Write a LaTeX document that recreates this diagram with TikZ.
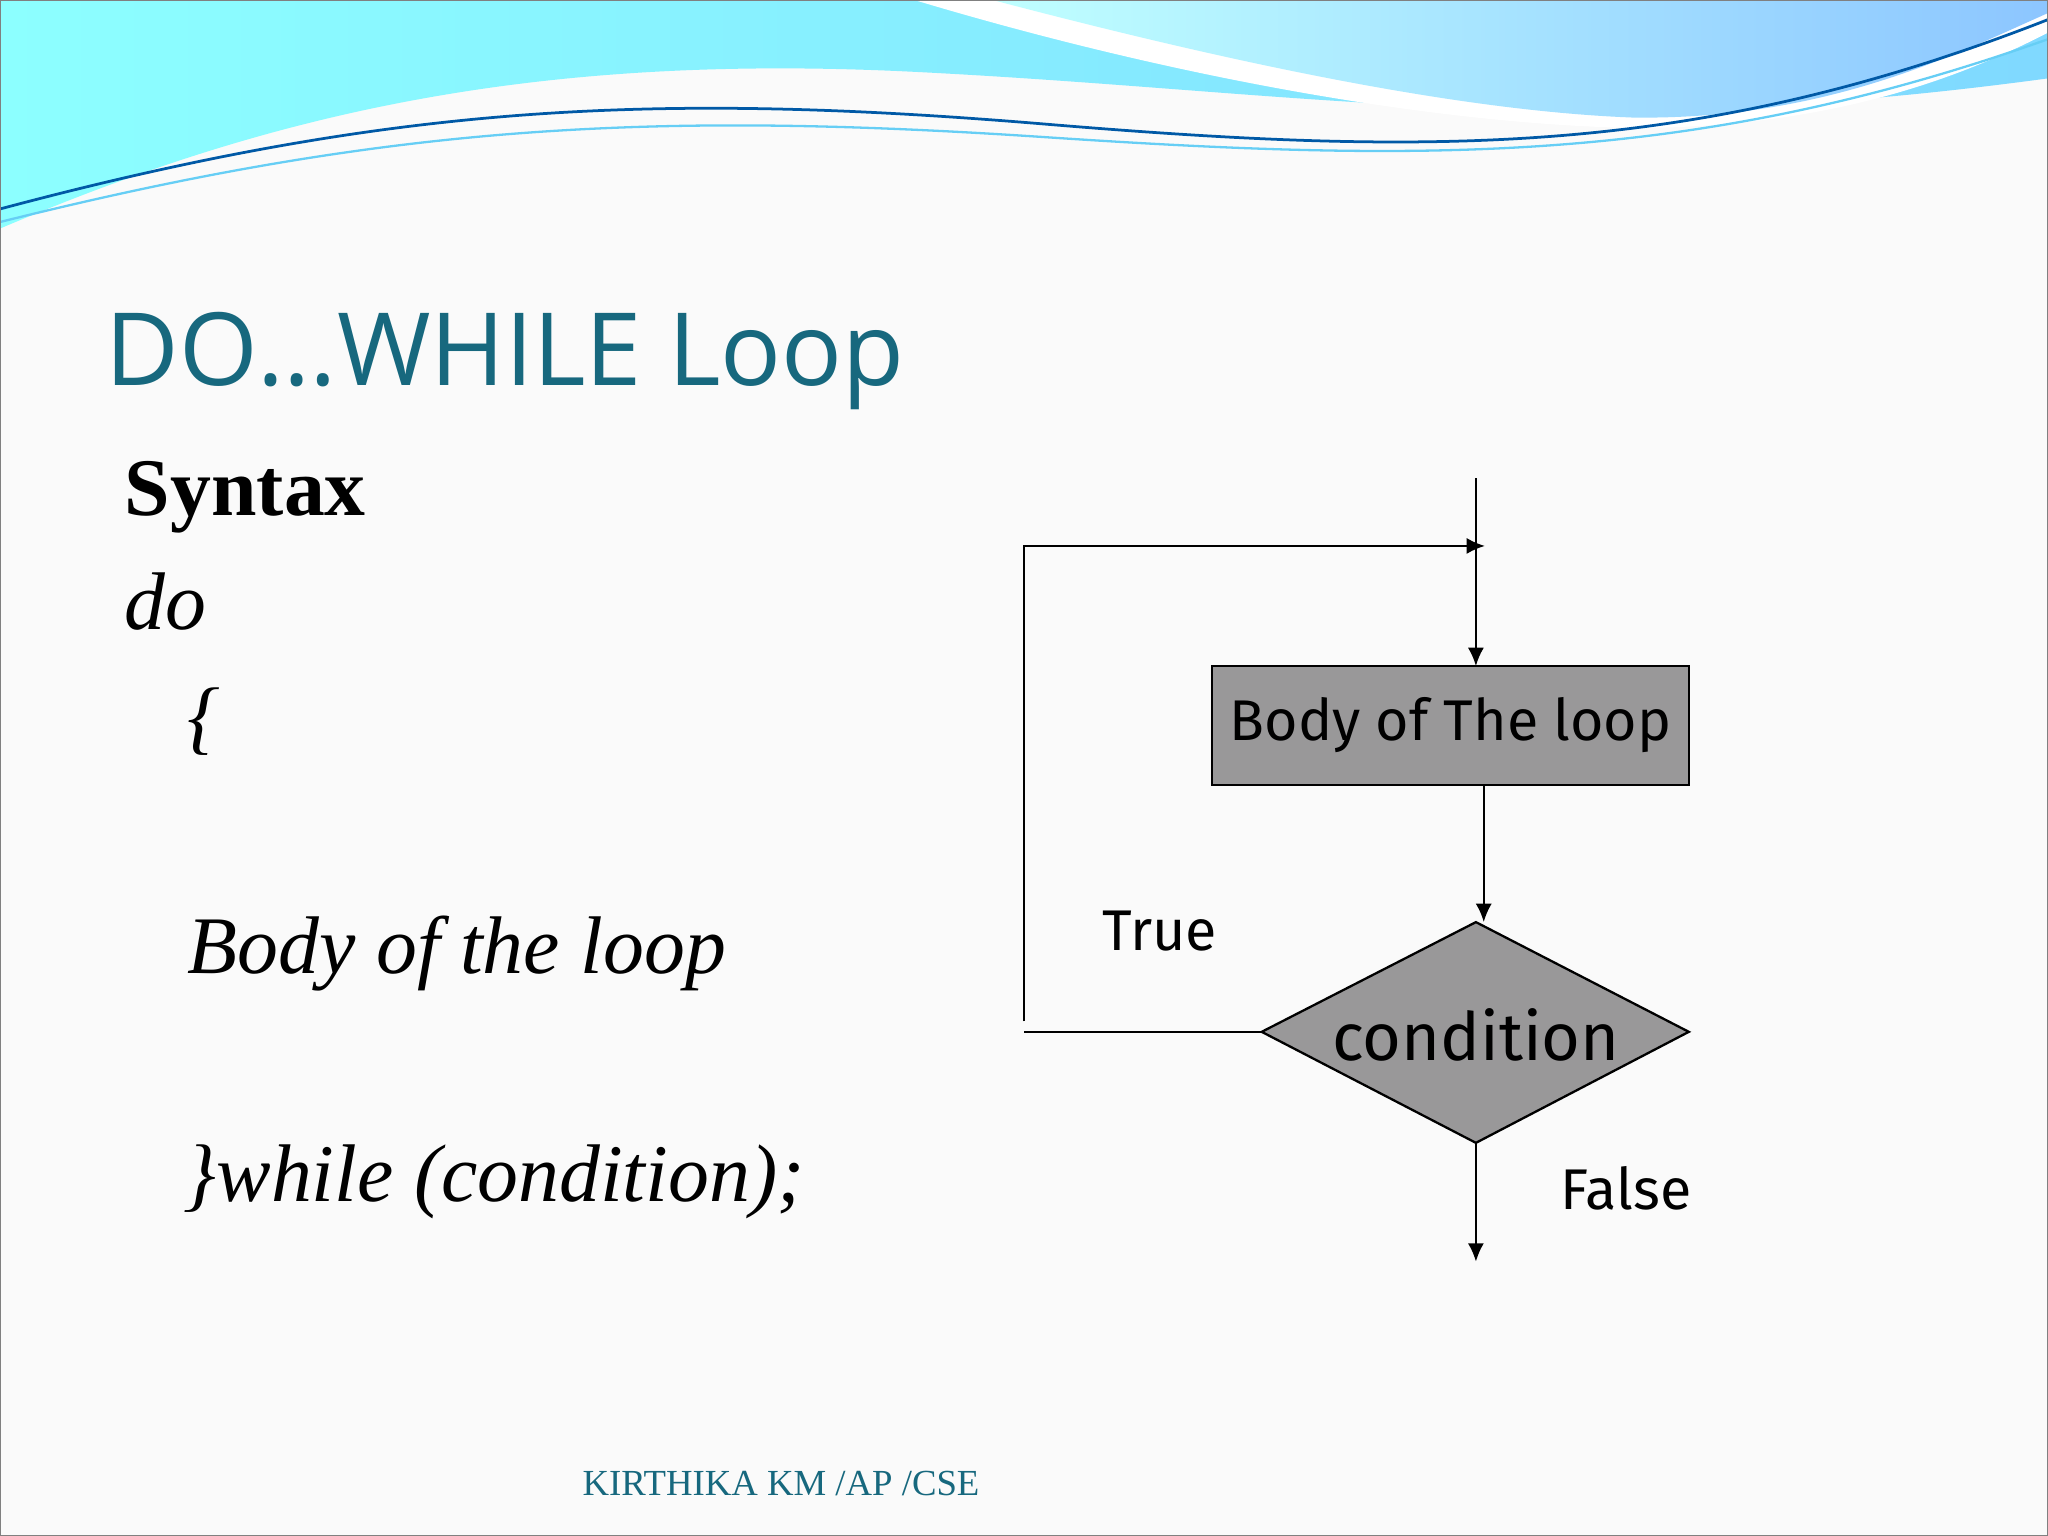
\documentclass[tikz,border=0pt]{standalone}
\usepackage{fontspec}
\setmainfont{Liberation Serif}
\newfontfamily\titlefont{Open Sans}
\newfontfamily\flowfont{Fira Sans}
\usetikzlibrary{arrows.meta}
\definecolor{teal1}{HTML}{17687E}
\definecolor{boxgray}{HTML}{999899}
\tikzset{
  fbox/.style={draw=black, fill=boxgray, line width=0.5pt},
  conn/.style={draw=black, line width=0.5pt},
  arr/.style={conn, -{Latex[length=4pt,width=3.5pt]}},
  ftext/.style={font=\flowfont\fontsize{12.5}{14}\selectfont},
  code/.style={anchor=base west, inner sep=0, font=\itshape\fontsize{17.8}{20}\selectfont},
}
\begin{document}
\begin{tikzpicture}[x=0.01cm,y=-0.01cm]
\useasboundingbox (0,0) rectangle (1568,1176);
\fill[white!96!gray] (0,0) rectangle (1568,1176);
% header waves
\shade[left color=cyan!45!white, right color=blue!30!cyan!50]
  (0,0) -- (0,175) .. controls (200,90) and (400,40) .. (700,55) .. controls (1000,70) and (1200,110) .. (1568,60) -- (1568,0) -- cycle;
\fill[white] (700,0) .. controls (900,60) and (1100,95) .. (1250,98) .. controls (1400,98) and (1500,60) .. (1568,25) -- (1568,0) -- cycle;
\shade[left color=cyan!25!white, right color=cyan!50!blue!45]
  (760,0) .. controls (950,50) and (1120,85) .. (1250,90) .. controls (1400,92) and (1500,40) .. (1568,10) -- (1568,0) -- cycle;
\draw[teal!70!blue, line width=0.6pt] (0,160) .. controls (300,80) and (500,70) .. (800,95) .. controls (1100,120) and (1300,120) .. (1568,15);
\draw[cyan!60, line width=0.5pt] (0,170) .. controls (300,95) and (500,85) .. (800,105) .. controls (1100,125) and (1300,125) .. (1568,30);
\draw[gray, line width=0.6pt] (0,0) rectangle (1568,1176);
% text
\node[anchor=base west, text=teal1, inner sep=0, font=\titlefont\fontsize{22}{26}\selectfont] (title) at (80,295) {DO…WHILE Loop};
\node[anchor=base west, inner sep=0, font=\bfseries\fontsize{17.8}{20}\selectfont] (syn) at (95,395) {Syntax};
\node[code] (do) at (95,482) {do};
\node[code] (ob) at (143,570) {\{};
\node[code] (body) at (143,745) {Body of the loop};
\node[code] (wh) at (140,920) {\}while (condition);};
\node[anchor=base, inner sep=0, text=teal1, font=\fontsize{8}{10}\selectfont] (foot) at (598,1145) {KIRTHIKA KM /AP /CSE};
% flowchart
\coordinate (top) at (1130,366);
\path[fbox] (928,510) rectangle (1293,601);
\node[ftext] (boxt) at (1110.5,555.5) {Body of The loop};
\path[fbox] (1130,706) -- (1293,790) -- (1130,875) -- (966,790) -- cycle;
\coordinate (dl) at (966,790);
\coordinate (db) at (1130,875);
\coordinate (dt) at (1136,706);
\node[font=\flowfont\fontsize{14.5}{17}\selectfont] (cond) at (1130,792) {condition};
\coordinate (bt) at (1130,510);
\coordinate (bb) at (1136,601);
\draw[arr] (top) -- (bt);
\draw[arr] (bb) -- (dt);
\draw[conn] (dl) -- (784,790);
\draw[arr] (784,782) -- (784,418) -- (1137,418);
\draw[arr] (db) -- (1130,966);
\node[ftext] (tr) at (888,713) {True};
\node[ftext] (fa) at (1245,910) {False};
\end{tikzpicture}
\end{document}
